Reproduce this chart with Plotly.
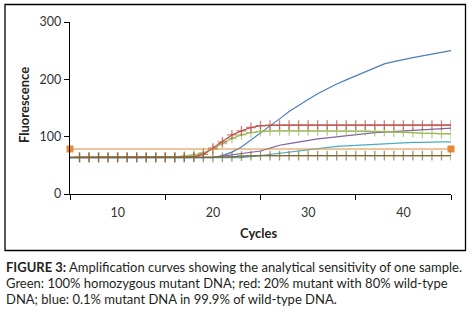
import plotly.graph_objects as go

W, H = 474, 312

cycles = list(range(5, 46))

blue = [63.5]*16 + [67, 73, 82, 94, 106, 118, 131, 144, 155, 165, 175, 184, 192, 199, 206,
                    213, 220, 227, 231, 235, 238, 241, 244, 247, 250]
red = [64]*13 + [65, 69, 80, 91, 103, 110, 116, 119] + [120]*20
green = [64]*12 + [66, 68, 72, 78, 88, 97, 103, 107, 109] + [110]*11 + [109, 109, 108, 108, 107, 106, 106, 105, 105]
purple = [63.5]*15 + [64, 66, 68, 70, 72, 75, 80, 85, 88, 91, 94, 96, 98, 100, 102, 104, 105,
                      107, 108, 109, 110, 111, 112, 113, 114, 115]
teal = [63.5]*19 + [65, 67, 70, 72, 74, 76, 78, 80, 82, 83, 84, 85, 86, 86, 87, 88, 89, 90, 90, 91, 91, 91]
brown = [64]*17 + [65, 66, 67] + [67]*21
threshold_x = [5, 45]
threshold_y = [78.5, 78.5]

x_ticks = [10, 20, 30, 40]
y_ticks = [0, 100, 200, 300]

FONT = "Lato"


def px(x):
    return x / W


def py(y):
    return (H - y) / H


fig = go.Figure()

msizes = [0] + [7] * (len(cycles) - 1)

series = [
    (blue, "#4a7ebb", False),
    (teal, "#4bacc6", False),
    (purple, "#8064a2", False),
    (green, "#9bbb59", True),
    (red, "#be4b48", True),
]
for vals, col, mk in series:
    fig.add_trace(go.Scatter(
        x=cycles, y=vals, mode="lines+markers" if mk else "lines",
        line=dict(color=col, width=1.2),
        marker=dict(symbol="cross-thin", size=msizes, line=dict(color=col, width=1.3), color=col),
    ))

fig.add_trace(go.Scatter(
    x=threshold_x, y=threshold_y, mode="lines+markers",
    line=dict(color="#dc8c40", width=1.2),
    marker=dict(symbol="square", size=7, color="#e8893a"),
    cliponaxis=False,
))

fig.add_trace(go.Scatter(
    x=cycles, y=brown, mode="lines+markers",
    line=dict(color="#7d6a33", width=1.2),
    marker=dict(symbol="cross-thin", size=msizes, line=dict(color="#7d6a33", width=1.3), color="#7d6a33"),
))

fig.update_layout(
    width=W, height=H, autosize=False,
    margin=dict(l=0, r=0, t=0, b=0, pad=0, autoexpand=False),
    paper_bgcolor="white", plot_bgcolor="white",
    showlegend=False,
    font=dict(family=FONT, color="#333333", size=12),
    xaxis=dict(
        domain=[px(70), px(451)], range=[5, 45],
        tickvals=x_ticks, ticktext=[str(v) for v in x_ticks],
        ticks="outside", ticklen=7, tickcolor="rgba(0,0,0,0)",
        showline=True, linecolor="black", linewidth=1.3,
        showgrid=False, zeroline=False,
        minor=dict(tick0=5, dtick=10, ticks="outside", ticklen=5, tickcolor="black", tickwidth=1.3, showgrid=False),
        tickfont=dict(family=FONT, size=12.5, color="#333333"),
    ),
    yaxis=dict(
        domain=[py(194), py(22)], range=[0, 300],
        tickvals=y_ticks, ticktext=[str(v) for v in y_ticks],
        ticks="outside", ticklen=5, tickcolor="black", tickwidth=1.3,
        showline=True, linecolor="black", linewidth=1.3,
        showgrid=False, zeroline=False,
        tickfont=dict(family=FONT, size=12.5, color="#333333"),
    ),
)

fig.add_shape(type="rect", xref="paper", yref="paper",
              x0=px(5), x1=px(465.5), y0=py(250.5), y1=py(4.5),
              line=dict(color="black", width=1.3), fillcolor="rgba(0,0,0,0)")

fig.add_annotation(text="<b>Fluorescence</b>", xref="paper", yref="paper",
                   x=px(24), y=py(105), textangle=-90, showarrow=False,
                   xanchor="center", yanchor="middle",
                   font=dict(family=FONT, size=13, color="#222222"))
fig.add_annotation(text="<b>Cycles</b>", xref="paper", yref="paper",
                   x=px(258), y=py(233), showarrow=False,
                   xanchor="center", yanchor="middle",
                   font=dict(family=FONT, size=13, color="#222222"))

caption = [
    "<b>FIGURE 3:</b> Amplification curves showing the analytical sensitivity of one sample.",
    "Green: 100% homozygous mutant DNA; red: 20% mutant with 80% wild-type",
    "DNA; blue: 0.1% mutant DNA in 99.9% of wild-type DNA.",
]
for i, line in enumerate(caption):
    fig.add_annotation(text=line, xref="paper", yref="paper",
                       x=px(4), y=py(266.5 + 16.3 * i), xanchor="left", yanchor="middle",
                       showarrow=False, align="left",
                       font=dict(family=FONT, size=13, color="#231f20"))

fig.write_html("out.html", config={"displayModeBar": False},
               post_script="document.body.style.margin='0px';document.body.style.overflow='hidden';")
